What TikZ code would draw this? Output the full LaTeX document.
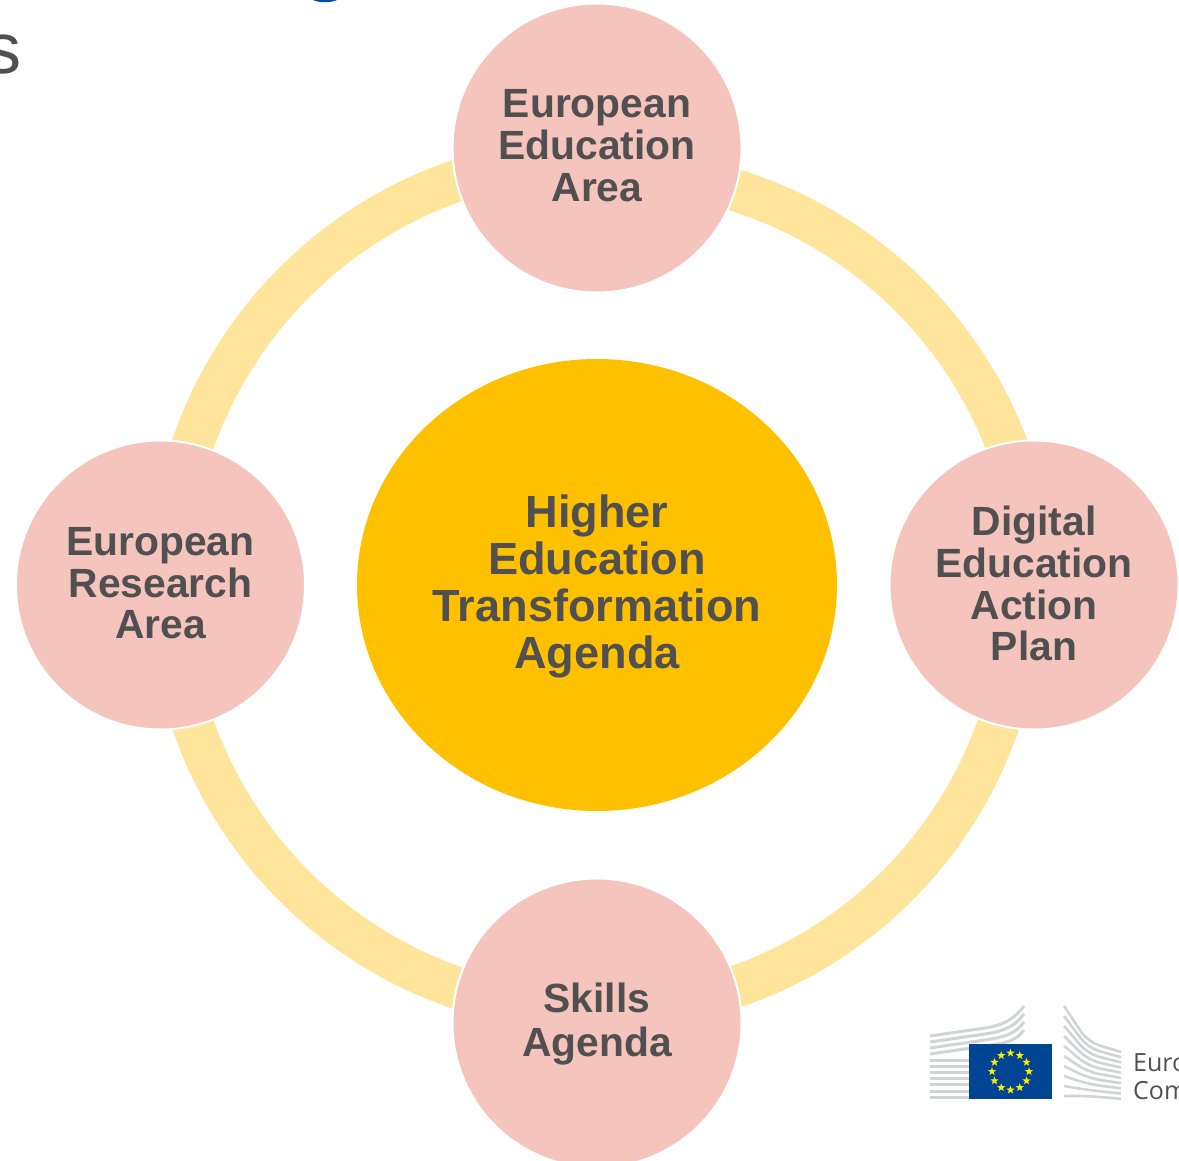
\documentclass[tikz,border=0pt]{standalone}
\usepackage{fontspec}
\setmainfont{Liberation Sans}
\newfontfamily\logofont{Open Sans}
\usetikzlibrary{shapes.geometric}
\definecolor{ringc}{HTML}{FFE49B}
\definecolor{pinkc}{HTML}{F5C4BC}
\definecolor{goldc}{HTML}{FFC000}
\definecolor{textc}{HTML}{505050}
\definecolor{stripec}{HTML}{D2D3D4}
\definecolor{flagc}{HTML}{004494}
\definecolor{topblue}{HTML}{034EA2}
\definecolor{starc}{HTML}{FFED00}
\tikzset{
  band/.style={draw=ringc,line width=42pt,line cap=butt},
  sat/.style={circle,fill=pinkc,draw=white,line width=2pt,minimum size=289pt,inner sep=0pt,align=center,text=textc,
    font=\fontsize{40.8}{41.7}\selectfont\bfseries},
  hub/.style={ellipse,fill=goldc,minimum width=480pt,minimum height=452pt,inner sep=0pt,align=center,text=textc,
    font=\fontsize{45.1}{47}\selectfont\bfseries},
  stripe/.style={stripec,line width=3pt},
  stripethin/.style={stripec,line width=2.6pt},
  flagstar/.style={star,star points=5,star point ratio=2.4,fill=starc,inner sep=0pt,minimum size=8.5pt},
  logotext/.style={anchor=base west,inner sep=0pt,text=textc,font=\fontsize{25}{27}\selectfont\logofont}
}
\begin{document}
\begin{tikzpicture}[x=1pt,y=-1pt]
\useasboundingbox (0,0) rectangle (1179,1161);
\begin{scope}
\clip (0,0) rectangle (1179,1161);
% cropped slide remains
\node[anchor=base,inner sep=0pt,text=textc,font=\fontsize{72}{74}\selectfont] (cutS) at (3,73.5) {s};
\fill[topblue] (313,0) .. controls (319,3) and (331,3) .. (337,0) -- cycle;
% ring segments
\draw[band] plot[domain=-80:-15,samples=50] ({607+428.5*cos(\x)},{599+428.5*sin(\x)});
\draw[band] plot[domain=15:75,samples=50] ({597+425*cos(\x)},{585+425*sin(\x)});
\draw[band] plot[domain=105:165,samples=50] ({597+428*cos(\x)},{583.5+428*sin(\x)});
\draw[band] plot[domain=195:255,samples=50] ({597+428*cos(\x)},{585+428*sin(\x)});
% circles
\node[hub] (hub) at (597,585) {Higher\\Education\\Transformation\\Agenda\\[-41pt]};
\node[sat] (top) at (597,148) {European\\Education\\Area\\[-37pt]};
\node[sat] (right) at (1034,585) {Digital\\Education\\Action\\Plan\\[-39pt]};
\node[sat] (left) at (160.5,585) {European\\Research\\Area\\[-38pt]};
\node[sat] (bottom) at (597,1023) {Skills\\[2pt]Agenda\\[-35pt]};
% logo
\foreach \a/\d in {1036/1006,1042/1014,1048/1022,1054/1030}
  \draw[stripe] (930,\a) -- (985,\a-8) .. controls (1005,\a-11) and (1015,\d+12) .. (1024,\d);
\foreach \k in {0,...,6}
  \draw[stripe] (930,1060.5+\k*6.1) -- (969,1060.5+\k*6.1);
\foreach \k in {0,...,9}
  \draw[stripethin,rounded corners=12pt] (1064,1006+\k*10) -- (1088,1042+\k*6) -- (1121,1052+\k*5.2);
\node[rectangle,fill=flagc,minimum width=83pt,minimum height=55pt,inner sep=0pt] (flag) at (1010.5,1071.5) {};
\foreach \i in {0,...,11}
  \node[flagstar] (st\i) at ({1010.5+18.5*cos(\i*30)},{1071.5+18.5*sin(\i*30)}) {};
\node[logotext] (eu1) at (1133,1071) {Euro};
\node[logotext] (eu2) at (1133,1099.5) {Com};
\end{scope}
\end{tikzpicture}
\end{document}
